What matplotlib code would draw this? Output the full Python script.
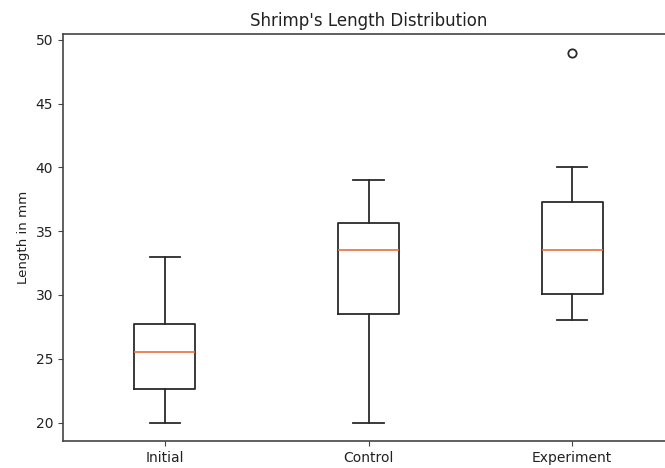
import matplotlib
matplotlib.use("Agg")
import matplotlib.pyplot as plt

# Box statistics
groups = ["Initial", "Control", "Experiment"]
whisker_low = [20, 20, 28]
q1 = [22.6, 28.5, 30.05]
medians = [25.55, 33.5, 33.5]
q3 = [27.75, 35.65, 37.25]
whisker_high = [33, 39, 40]
outliers = [[], [], [49]]

stats = []
for i, name in enumerate(groups):
    stats.append({
        "label": name,
        "whislo": whisker_low[i],
        "q1": q1[i],
        "med": medians[i],
        "q3": q3[i],
        "whishi": whisker_high[i],
        "fliers": outliers[i],
    })

line_col = "#2b2b2b"
lw = 1.3

fig = plt.figure(figsize=(6.65, 4.68), dpi=100)
# axes runs slightly past the right edge, as in the cropped screenshot
ax = fig.add_axes([63 / 665, 27 / 468, 611 / 665, 407 / 468])
ax.bxp(stats, positions=[1, 2, 3], widths=0.3,
       boxprops=dict(color=line_col, linewidth=lw),
       whiskerprops=dict(color=line_col, linewidth=lw),
       capprops=dict(color=line_col, linewidth=lw),
       medianprops=dict(color="#e8703a", linewidth=1.2),
       flierprops=dict(markeredgecolor=line_col, markeredgewidth=1.3))
ax.set_xlim(0.5, 3.5)
ax.set_ylim(18.55, 50.45)
ax.set_title("Shrimp's Length Distribution", fontsize=12, color="#222222")
ax.set_ylabel("Length in mm", fontsize=9.6, color="#222222")
ax.tick_params(labelsize=10, labelcolor="#222222", color="#444444")
for s in ax.spines.values():
    s.set_color("#444444")
    s.set_linewidth(1.2)

fig.savefig("out.png", dpi=100)
